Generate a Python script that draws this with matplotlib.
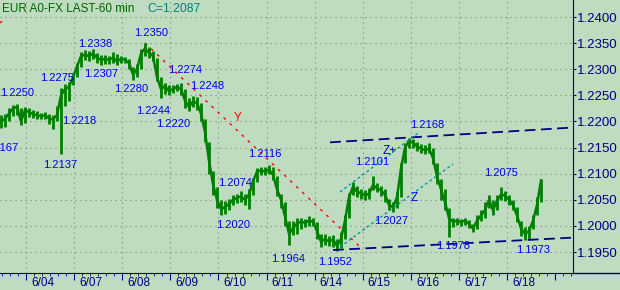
import numpy as np
import matplotlib.pyplot as plt
from matplotlib.lines import Line2D

plt.rcParams['font.family'] = ['Liberation Sans', 'DejaVu Sans']

# 2-hour bars of EUR/USD (close, high, low)
closes = [
    1.2200, 1.2205, 1.2215, 1.2225, 1.2228, 1.2200, 1.2222, 1.2218, 1.2214, 1.2212,
    1.2210, 1.2212, 1.2206, 1.2204, 1.2212, 1.2250, 1.2262, 1.2266, 1.2285, 1.2305,
    1.2325, 1.2328, 1.2325, 1.2330, 1.2322, 1.2318, 1.2320, 1.2318, 1.2322, 1.2315,
    1.2320, 1.2318, 1.2312, 1.2290, 1.2300, 1.2330, 1.2340, 1.2332, 1.2325, 1.2285,
    1.2262, 1.2268, 1.2258, 1.2262, 1.2266, 1.2262, 1.2240, 1.2228, 1.2238, 1.2235,
    1.2215, 1.2180, 1.2125, 1.2080, 1.2050, 1.2032, 1.2036, 1.2042, 1.2050, 1.2054,
    1.2056, 1.2050, 1.2060, 1.2085, 1.2104, 1.2106, 1.2104, 1.2108, 1.2098, 1.2070,
    1.2050, 1.2018, 1.1985, 1.1995, 1.2005, 1.2008, 1.2006, 1.2010, 1.2008, 1.1990,
    1.1970, 1.1975, 1.1970, 1.1974, 1.1962, 1.1975, 1.2010, 1.2055, 1.2075, 1.2066,
    1.2062, 1.2058, 1.2062, 1.2078, 1.2072, 1.2068, 1.2060, 1.2040, 1.2036, 1.2055,
    1.2110, 1.2150, 1.2162, 1.2160, 1.2152, 1.2148, 1.2145, 1.2148, 1.2130, 1.2095,
    1.2070, 1.2045, 1.2015, 1.2008, 1.2010, 1.2008, 1.2010, 1.2004, 1.1995, 1.2010,
    1.2020, 1.2030, 1.2050, 1.2030, 1.2048, 1.2060, 1.2058, 1.2050, 1.2040, 1.2020,
    1.1995, 1.1985, 1.1990, 1.2010, 1.2040, 1.2087]
highs = [
    1.2212, 1.2215, 1.2225, 1.2232, 1.2234, 1.2225, 1.2228, 1.2226, 1.2222, 1.2220,
    1.2216, 1.2218, 1.2214, 1.2212, 1.2230, 1.2265, 1.2272, 1.2275, 1.2290, 1.2312,
    1.2333, 1.2336, 1.2334, 1.2338, 1.2332, 1.2328, 1.2328, 1.2326, 1.2333, 1.2330,
    1.2326, 1.2324, 1.2320, 1.2305, 1.2310, 1.2338, 1.2350, 1.2342, 1.2335, 1.2322,
    1.2285, 1.2274, 1.2270, 1.2270, 1.2272, 1.2274, 1.2262, 1.2245, 1.2248, 1.2246,
    1.2236, 1.2205, 1.2160, 1.2105, 1.2075, 1.2050, 1.2048, 1.2052, 1.2060, 1.2062,
    1.2066, 1.2062, 1.2070, 1.2092, 1.2110, 1.2112, 1.2112, 1.2116, 1.2112, 1.2095,
    1.2062, 1.2045, 1.2010, 1.2010, 1.2015, 1.2016, 1.2014, 1.2018, 1.2015, 1.2008,
    1.1985, 1.1984, 1.1980, 1.1982, 1.1975, 1.1988, 1.2020, 1.2063, 1.2084, 1.2076,
    1.2070, 1.2068, 1.2072, 1.2095, 1.2082, 1.2076, 1.2070, 1.2052, 1.2046, 1.2065,
    1.2120, 1.2158, 1.2168, 1.2166, 1.2160, 1.2156, 1.2154, 1.2158, 1.2150, 1.2120,
    1.2090, 1.2070, 1.2035, 1.2016, 1.2016, 1.2014, 1.2016, 1.2012, 1.2004, 1.2020,
    1.2030, 1.2045, 1.2060, 1.2050, 1.2060, 1.2075, 1.2066, 1.2060, 1.2050, 1.2036,
    1.2010, 1.1998, 1.2000, 1.2020, 1.2055, 1.2090]
lows = [
    1.2188, 1.2190, 1.2200, 1.2210, 1.2212, 1.2194, 1.2198, 1.2208, 1.2206, 1.2204,
    1.2204, 1.2205, 1.2196, 1.2186, 1.2200, 1.2137, 1.2230, 1.2240, 1.2270, 1.2285,
    1.2305, 1.2318, 1.2316, 1.2320, 1.2312, 1.2308, 1.2310, 1.2310, 1.2312, 1.2308,
    1.2312, 1.2312, 1.2300, 1.2280, 1.2286, 1.2300, 1.2326, 1.2322, 1.2315, 1.2278,
    1.2244, 1.2252, 1.2250, 1.2254, 1.2258, 1.2250, 1.2226, 1.2220, 1.2228, 1.2222,
    1.2200, 1.2160, 1.2100, 1.2060, 1.2035, 1.2020, 1.2022, 1.2030, 1.2040, 1.2044,
    1.2046, 1.2040, 1.2032, 1.2060, 1.2085, 1.2098, 1.2098, 1.2100, 1.2088, 1.2058,
    1.2035, 1.2000, 1.1964, 1.1982, 1.1985, 1.1995, 1.1998, 1.2000, 1.2000, 1.1975,
    1.1960, 1.1964, 1.1962, 1.1960, 1.1952, 1.1958, 1.1975, 1.2015, 1.2060, 1.2056,
    1.2052, 1.2050, 1.2052, 1.2068, 1.2064, 1.2058, 1.2045, 1.2030, 1.2027, 1.2035,
    1.2055, 1.2120, 1.2150, 1.2150, 1.2144, 1.2140, 1.2138, 1.2140, 1.2118, 1.2080,
    1.2050, 1.2030, 1.1978, 1.1998, 1.2002, 1.2000, 1.2002, 1.1996, 1.1988, 1.1995,
    1.2010, 1.2015, 1.2035, 1.2020, 1.2030, 1.2050, 1.2048, 1.2040, 1.2030, 1.2008,
    1.1980, 1.1973, 1.1975, 1.1995, 1.2020, 1.2045]

day_labels = ['6/04', '6/07', '6/08', '6/09', '6/10', '6/11',
              '6/14', '6/15', '6/16', '6/17', '6/18']
price_ticks = [1.1950, 1.2000, 1.2050, 1.2100, 1.2150, 1.2200,
               1.2250, 1.2300, 1.2350, 1.2400]

# swing labels: text, bar, price
swing_labels = [
    ('1.2250', 4.0, 1.22554), ('1.2137', 14.75, 1.21166), ('1.2218', 19.5, 1.22009),
    ('1.2275', 13.9, 1.22832), ('1.2307', 25.0, 1.22908), ('1.2338', 23.5, 1.23483),
    ('1.2280', 32.5, 1.22621), ('1.2350', 37.5, 1.23694), ('1.2274', 46.1, 1.22995),
    ('1.2244', 38.0, 1.22200), ('1.2248', 51.6, 1.22679), ('1.2220', 43.0, 1.21951),
    ('1.2116', 66.0, 1.21376), ('1.2074', 58.4, 1.20831), ('1.2020', 58.0, 1.20017),
    ('1.1964', 71.75, 1.19366), ('1.1952', 83.5, 1.19308), ('1.2101', 92.9, 1.21233),
    ('1.2168', 106.5, 1.21932), ('1.2027', 97.5, 1.20103), ('1.2075', 125.0, 1.21022),
    ('1.1978', 113.0, 1.19615), ('1.1973', 133.0, 1.19548),
]

# drawn trend lines: (bar0, bar1), (price0, price1)
y_line = ([36.0, 90.5], [1.23502, 1.19544])
y_stub = ([-0.25, 1.2], [1.23885, 1.23990])
chan_top = ([82.25, 143.0], [1.21600, 1.21884])
chan_bot = ([83.0, 143.0], [1.19538, 1.19776])
z_plus = ([84.75, 104.75], [1.20649, 1.21804])
z_line = ([84.75, 113.0], [1.19596, 1.21185])

bg = '#c0dcc0'
navy = '#000080'
green = '#007f00'
blue = '#0000ee'

fig = plt.figure(figsize=(6.2, 2.9), dpi=100, facecolor=bg)
ax = fig.add_axes([0, 17 / 290, 573 / 620, 273 / 290], facecolor=bg)
ax.set_xlim(-0.25, 143.0)
ax.set_ylim(1.19098, 1.24326)

day0, day_step = 6.25, 12.03
day_pos = [day0 + day_step * k for k in range(len(day_labels))]

for p in price_ticks:
    ax.axhline(p, color='#808080', lw=0.8, ls=(0, (1, 3.5)), zorder=0)
for d in day_pos:
    ax.axvline(d, color='#808080', lw=0.8, ls=(0, (1, 3.5)), zorder=0)

x = np.arange(len(closes))
ax.vlines(x, lows, highs, color=green, lw=2.0, zorder=3)
ax.plot(x, closes, color=green, lw=1.8, zorder=3)

ax.plot(*y_line, color='red', lw=1, ls=(0, (2, 4)), zorder=2)
ax.plot(*y_stub, color='red', lw=1, ls=(0, (2, 4)), zorder=2)
ax.plot(*chan_top, color=navy, lw=1.3, ls=(0, (6, 3)), zorder=4)
ax.plot(*chan_bot, color=navy, lw=1.3, ls=(0, (6, 3)), zorder=4)
ax.plot(*z_plus, color='#009999', lw=1, ls=(0, (2, 2)), zorder=4)
ax.plot(*z_line, color='#009999', lw=1, ls=(0, (2, 2)), zorder=4)

for txt, bx, py in swing_labels:
    ax.text(bx, py, txt, color=blue, fontsize=8, ha='center', va='center', zorder=5)
ax.text(4.25, 1.21501, '1.2167', color=blue, fontsize=8, ha='right', va='center')
ax.text(97.1, 1.21434, 'Z+', color=blue, fontsize=8.5, ha='center', va='center')
ax.text(103.4, 1.20534, 'Z', color=blue, fontsize=8.5, ha='center', va='center')
ax.text(59.25, 1.22066, 'Y', color='red', fontsize=8.5, ha='center', va='center')

# axes styling
for s in ['left', 'top']:
    ax.spines[s].set_visible(False)
ax.spines['right'].set_color(navy)
ax.spines['bottom'].set_color(navy)
ax.yaxis.tick_right()
ax.set_yticks(price_ticks)
ax.set_yticklabels([f'{p:.4f}' for p in price_ticks])
ax.tick_params(axis='y', direction='out', length=2.2, color=navy,
               labelcolor=navy, labelsize=9.5, pad=1)

ax.set_xticks(day_pos + [day0 + day_step * 11])
ax.set_xticklabels([])
ax.set_xticks(np.arange(day0 - day_step / 2, 143, day_step / 6), minor=True)
ax.tick_params(axis='x', which='major', direction='out', length=5, color=navy)
ax.tick_params(axis='x', which='minor', direction='out', length=2, color=navy)
for d, lab in zip(day_pos, day_labels):
    ax.annotate(lab, xy=(d, 0), xycoords=('data', 'axes fraction'),
                xytext=(5, -4), textcoords='offset pixels',
                ha='left', va='top', color=navy, fontsize=8.5)

fig.add_artist(Line2D([573 / 620, 1], [17 / 290, 17 / 290], color=navy, lw=1))

fig.text(2 / 620, 1 - 9 / 290, 'EUR A0-FX LAST-60 min', color='#006400',
         fontsize=8.5, va='center', ha='left')
fig.text(147 / 620, 1 - 9 / 290, 'C=1.2087', color='#008080',
         fontsize=8.8, va='center', ha='left')

fig.savefig('out.png', dpi=100, facecolor=bg)
